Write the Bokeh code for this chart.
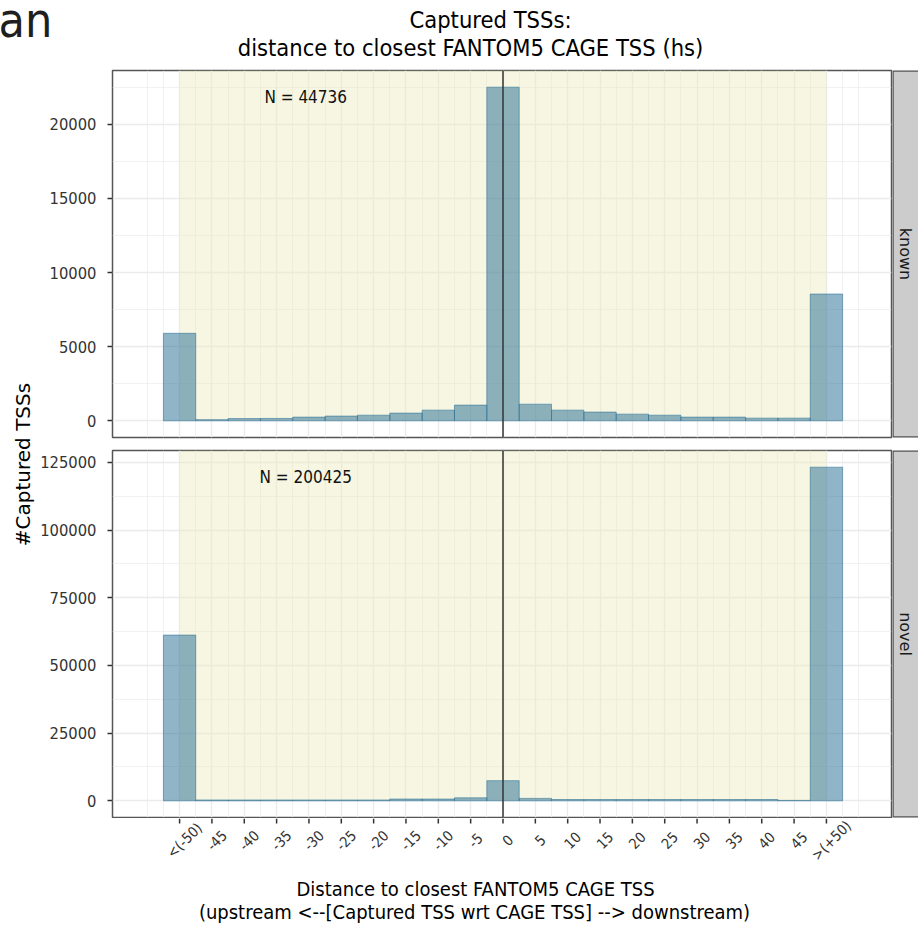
import numpy as np
from bokeh.plotting import figure
from bokeh.models import Range1d, FixedTicker, Span, Label, NumeralTickFormatter
from bokeh.layouts import row, column
from bokeh.embed import file_html
from bokeh.resources import INLINE
from bokeh.core.properties import value

# ---------------- data ----------------
bin_centers = [-50, -45, -40, -35, -30, -25, -20, -15, -10, -5, 0,
               5, 10, 15, 20, 25, 30, 35, 40, 45, 50]
x_tick_labels = ["<(-50)", "-45", "-40", "-35", "-30", "-25", "-20", "-15", "-10", "-5", "0",
                 "5", "10", "15", "20", "25", "30", "35", "40", "45", ">(+50)"]
known_counts = [5900, 80, 150, 160, 250, 320, 380, 520, 720, 1060, 22500,
                1120, 720, 590, 450, 380, 250, 250, 180, 180, 8550]
novel_counts = [61200, 300, 300, 300, 300, 300, 300, 650, 650, 1100, 7450,
                900, 480, 480, 480, 480, 480, 480, 480, 150, 123200]
known_y_ticks = [0, 5000, 10000, 15000, 20000]
novel_y_ticks = [0, 25000, 50000, 75000, 100000, 125000]
facet_names = ["known", "novel"]
facet_n = ["N = 44736", "N = 200425"]
title_lines = ["Captured TSSs:", "distance to closest FANTOM5 CAGE TSS (hs)"]
xlabel_lines = ["Distance to closest FANTOM5 CAGE TSS",
                "(upstream <--[Captured TSS wrt CAGE TSS] --> downstream)"]
ylabel_text = "#Captured TSSs"
corner_text = "an"

# ---------------- style ----------------
FONT_H = "DejaVu Sans Condensed, DejaVu Sans"
FONT_V = "DejaVu Sans"
BAR = "#2a6f96"
BAND = "#ebebbe"
GRID = "#ebebeb"
BORDER = "#555555"
TICK = "#333333"
TXT = "#333333"
TICK_LEN = 5

YL_W = 36          # width of the y-title column
LEFT_B = 76        # left border of each panel (frame starts at 112 px)
PANEL_W = 856

BIN_W = 5
XR = Range1d(-60.37, 60.06)
x_minor = sorted([b + BIN_W / 2 for b in bin_centers[:-1]] +
                 [bin_centers[0] - BIN_W, bin_centers[0] - BIN_W / 2,
                  bin_centers[-1] + BIN_W / 2, bin_centers[-1] + BIN_W])


def make_panel(counts, yticks, n_text, height, top_b, bottom_b):
    M = max(counts)
    y0, y1 = -0.05 * M, 1.05 * M
    step = yticks[1] - yticks[0]
    y_minor = [t + step / 2 for t in yticks if y0 < t + step / 2 < y1]
    p = figure(width=PANEL_W, height=height, x_range=XR, y_range=Range1d(y0, y1),
               output_backend="svg", toolbar_location=None,
               x_axis_location=None,
               min_border_left=LEFT_B, min_border_right=1,
               min_border_top=top_b, min_border_bottom=bottom_b)
    p.background_fill_color = "white"
    p.border_fill_color = "white"
    p.outline_line_color = BORDER
    p.outline_line_width = 1.5

    p.xgrid.ticker = FixedTicker(ticks=bin_centers, minor_ticks=x_minor)
    p.ygrid.ticker = FixedTicker(ticks=yticks, minor_ticks=y_minor)
    p.grid.grid_line_color = GRID
    p.grid.grid_line_width = 1.4
    p.grid.minor_grid_line_color = GRID
    p.grid.minor_grid_line_width = 0.7

    ya = p.yaxis[0]
    ya.ticker = FixedTicker(ticks=yticks, minor_ticks=y_minor)
    ya.formatter = NumeralTickFormatter(format="0")
    ya.axis_line_color = None
    ya.major_tick_line_color = TICK
    ya.major_tick_line_width = 1.5
    ya.major_tick_out = TICK_LEN
    ya.major_tick_in = 0
    ya.minor_tick_line_color = None
    ya.major_label_text_font = FONT_H
    ya.major_label_text_font_size = "16.4px"
    ya.major_label_text_color = TXT
    ya.major_label_standoff = 11

    # shaded window -50..50
    p.quad(left=[bin_centers[0]], right=[bin_centers[-1]], bottom=[0], top=[y1],
           fill_color=BAND, fill_alpha=0.45, line_color=None)
    p.vbar(x=bin_centers, top=counts, bottom=0, width=BIN_W,
           fill_color=BAR, fill_alpha=0.52, line_color=BAR, line_alpha=0.55, line_width=1)
    p.add_layout(Span(location=0, dimension="height", line_color="#333333", line_width=1.5))
    p.add_layout(Label(x=-30.5, y=0.97 * M, text=n_text, text_align="center",
                       text_baseline="middle", text_font=FONT_H,
                       text_font_size="17px", text_color="#111111"))
    return p


def make_strip(label, height, top_b, bottom_b):
    s = figure(width=26, height=height, x_range=Range1d(0, 1), y_range=Range1d(0, 1),
               output_backend="svg", toolbar_location=None,
               x_axis_location=None, y_axis_location=None,
               min_border_left=0, min_border_right=0,
               min_border_top=top_b, min_border_bottom=bottom_b)
    s.grid.visible = False
    s.outline_line_color = None
    s.border_fill_color = "white"
    s.quad(left=[0], right=[1.5], bottom=[0], top=[1], fill_color="#cccccc",
           line_color=BORDER, line_width=2.5)
    s.text(x=[0.5], y=[0.5], text=[label], angle=-np.pi / 2,
           text_align="center", text_baseline="middle",
           text_font=value(FONT_V), text_font_size="16px", text_color="#1a1a1a")
    return s


def blank(width, height):
    b = figure(width=width, height=height, x_range=Range1d(0, 1), y_range=Range1d(0, 1),
               output_backend="svg", toolbar_location=None,
               x_axis_location=None, y_axis_location=None,
               min_border_left=0, min_border_right=0, min_border_top=0, min_border_bottom=0)
    b.grid.visible = False
    b.outline_line_color = None
    b.border_fill_color = "white"
    b.background_fill_color = "white"
    return b


p1 = make_panel(known_counts, known_y_ticks, facet_n[0], 375, 2, 6)
p2 = make_panel(novel_counts, novel_y_ticks, facet_n[1], 375, 7, 1)
s1 = make_strip(facet_names[0], 375, 2, 6)
s2 = make_strip(facet_names[1], 375, 7, 1)

# x axis ticks + rotated tick labels (shares the panels' x scale; y in px from top)
XT_H = 57
xt = figure(width=PANEL_W + 26, height=XT_H, x_range=XR, y_range=Range1d(XT_H, 0),
            output_backend="svg", toolbar_location=None,
            x_axis_location=None, y_axis_location=None,
            min_border_left=LEFT_B, min_border_right=27, min_border_top=0, min_border_bottom=0)
xt.grid.visible = False
xt.outline_line_color = None
xt.border_fill_color = "white"
xt.segment(x0=bin_centers, x1=bin_centers, y0=0, y1=TICK_LEN,
           line_color=TICK, line_width=1.5)
xt.text(x=bin_centers, y=22, text=x_tick_labels, angle=np.pi / 4, x_offset=5,
        text_align="center", text_baseline="middle",
        text_font=value(FONT_H), text_font_size="14.5px", text_color=TXT)

# x axis title
footer = blank(918, 56)
footer.add_layout(Label(x=475, y=43, x_units="screen", y_units="screen", text=xlabel_lines[0],
                        text_align="center", text_baseline="alphabetic", text_font=FONT_H,
                        text_font_size="20px", text_color="#000000"))
footer.add_layout(Label(x=474, y=20, x_units="screen", y_units="screen", text=xlabel_lines[1],
                        text_align="center", text_baseline="alphabetic", text_font=FONT_H,
                        text_font_size="20px", text_color="#000000"))

# header with title
header = blank(918, 68)
header.add_layout(Label(x=-2, y=49, x_units="screen", y_units="screen", text=corner_text,
                        text_align="left", text_baseline="alphabetic", text_font=FONT_H,
                        text_font_size="48px", text_color="#1f1f1f"))
header.add_layout(Label(x=490, y=49, x_units="screen", y_units="screen", text=title_lines[0],
                        text_align="center", text_baseline="alphabetic", text_font=FONT_H,
                        text_font_size="23.5px", text_color="#000000"))
header.add_layout(Label(x=470, y=21, x_units="screen", y_units="screen", text=title_lines[1],
                        text_align="center", text_baseline="alphabetic", text_font=FONT_H,
                        text_font_size="23.5px", text_color="#000000"))

# y axis title column
YL_H = 375 + 375 + XT_H
ylab = blank(YL_W, YL_H)
ylab.add_layout(Label(x=22, y=YL_H - (464 - 68), x_units="screen", y_units="screen",
                      text=ylabel_text, angle=np.pi / 2, text_align="center",
                      text_baseline="middle", text_font=FONT_V, text_font_size="20px",
                      text_color="#000000"))

layout = column(header,
                row(ylab, column(row(p1, s1), row(p2, s2), xt)),
                footer)

open("out.html", "w").write(file_html(layout, INLINE))
